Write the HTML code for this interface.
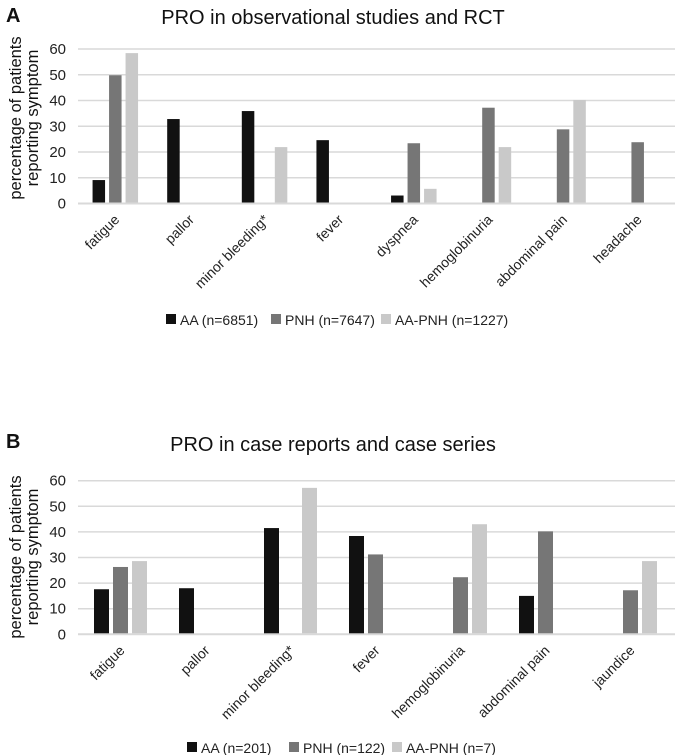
<!DOCTYPE html>
<html><head><meta charset="utf-8">
<style>
html,body{margin:0;padding:0;background:#fff;}
svg{display:block;font-family:"Liberation Sans",sans-serif;}
</style></head>
<body>
<svg id="svg" width="675" height="755" viewBox="0 0 675 755">
<text x="6" y="22" font-size="20" font-weight="bold" fill="#111">A</text>
<text x="333" y="24" font-size="20" text-anchor="middle" fill="#111">PRO in observational studies and RCT</text>
<text x="6" y="448" font-size="20" font-weight="bold" fill="#111">B</text>
<text x="333" y="451" font-size="20" text-anchor="middle" fill="#111">PRO in case reports and case series</text>
</svg>
<script>
const catsA = ["fatigue","pallor","minor bleeding*","fever","dyspnea","hemoglobinuria","abdominal pain","headache"];
const aaA = [9.1,32.8,35.9,24.6,3.1,0,0,0];
const pnhA = [49.8,0,0,0,23.4,37.2,28.8,23.8];
const aapnhA = [58.4,0,21.9,0,5.7,21.9,40.2,0];
const legendA = ["AA (n=6851)","PNH (n=7647)","AA-PNH (n=1227)"];

const catsB = ["fatigue","pallor","minor bleeding*","fever","hemoglobinuria","abdominal pain","jaundice"];
const aaB = [17.6,18,41.5,38.4,0,15,0];
const pnhB = [26.3,0,0,31.2,22.3,40.2,17.2];
const aapnhB = [28.6,0,57.2,0,43,0,28.6];
const legendB = ["AA (n=201)","PNH (n=122)","AA-PNH (n=7)"];

const yTicks = [0,10,20,30,40,50,60];
const colors = ["#111111","#767676","#c9c9c9"];
const NS = "http://www.w3.org/2000/svg";
const svg = document.getElementById("svg");

function mk(tag, attrs, parent){
  const e = document.createElementNS(NS, tag);
  for (const k in attrs) e.setAttribute(k, attrs[k]);
  (parent||svg).appendChild(e);
  return e;
}

function drawChart(cfg){
  const g = mk("g", {});
  
  
  const y = v => cfg.y0 - (v/60)*(cfg.y0 - cfg.y60);
  const catW = (cfg.x1 - cfg.x0)/cfg.cats.length;
  yTicks.forEach(t => {
    const ln = mk("line", {x1:cfg.x0, x2:675, y1:y(t), y2:y(t), stroke:"#d9d9d9", "stroke-width":t===0?2:1.5}, g);
    
    
    const tx = mk("text", {x:cfg.x0-12, y:y(t)+5, "font-size":15, "text-anchor":"end", fill:"#222"}, g);
    tx.textContent = t;
    
    
  });
  const yt = mk("text", {transform:`translate(${cfg.ytx},${cfg.yty}) rotate(-90)`, "font-size":16.5, "text-anchor":"middle", fill:"#111"}, g);
  
  
  const t1 = mk("tspan", {x:0, dy:0}, yt); t1.textContent = "percentage of patients";
  const t2 = mk("tspan", {x:0, dy:17}, yt); t2.textContent = "reporting symptom";
  const series = [cfg.aa, cfg.pnh, cfg.aapnh];
  const groupW = 3*cfg.bw + 2*cfg.gap;
  cfg.cats.forEach((c, i) => {
    const start = cfg.x0 + i*catW + (catW - groupW)/2;
    series.forEach((s, j) => {
      const v = s[i];
      if (v > 0) {
        const r = mk("rect", {x:start + j*(cfg.bw+cfg.gap), y:y(v), width:cfg.bw, height:y(0)-y(v)-1, fill:colors[j]}, g);
        
        
      }
    });
    const cx = cfg.x0 + i*catW + catW/2 + 5;
    const lab = mk("text", {transform:`translate(${cx},${y(0)+17}) rotate(-45)`, "font-size":14, "text-anchor":"end", fill:"#222"}, g);
    lab.textContent = c;
    
    
  });
  cfg.legend.forEach((l, j) => {
    const lx = cfg.legX[j];
    const sq = mk("rect", {x:lx, y:cfg.legY-11, width:10, height:10, fill:colors[j]}, g);
    
    
    const lt = mk("text", {x:lx+14, y:cfg.legY, "font-size":14, fill:"#222"}, g);
    lt.textContent = l;
    
    
  });
}

drawChart({name:"chart-a", cats:catsA, aa:aaA, pnh:pnhA, aapnh:aapnhA, legend:legendA,
  x0:78, x1:675, y0:203.5, y60:49, bw:12.5, gap:4, ytx:21, yty:118,
  legX:[166,271,381], legY:325});
drawChart({name:"chart-b", cats:catsB, aa:aaB, pnh:pnhB, aapnh:aapnhB, legend:legendB,
  x0:78, x1:673, y0:634.3, y60:480.7, bw:15, gap:4, ytx:21, yty:557,
  legX:[187,289,392], legY:753});
</script>
</body></html>
